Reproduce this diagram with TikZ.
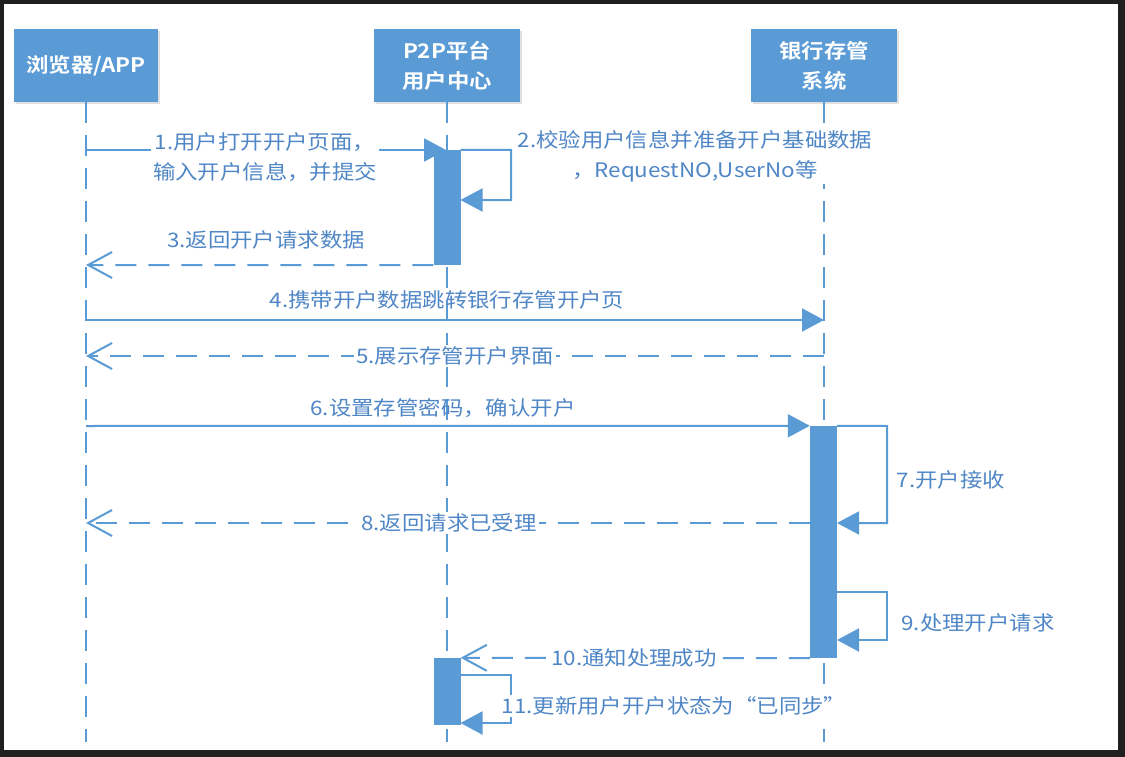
\documentclass[tikz,border=0pt]{standalone}
\usepackage{fontspec}
\usetikzlibrary{arrows.meta,shadows}
\newfontfamily\cjk[FakeStretch=1.12,BoldFont={Noto Sans CJK SC Bold},BoldFeatures={FakeStretch=1.12}]{Noto Sans CJK SC}
\definecolor{boxblue}{HTML}{5B9BD5}
\definecolor{lineblue}{HTML}{5B9BD5}
\definecolor{txtblue}{HTML}{4F86C6}
\definecolor{framedark}{HTML}{202020}
\begin{document}
\begin{tikzpicture}[x=1pt,y=-1pt,
  actor/.style={fill=boxblue, minimum width=146pt, minimum height=73pt, inner sep=0pt,
    text=white, font=\cjk\bfseries\fontsize{20}{30}\selectfont, align=center,
    drop shadow={shadow xshift=1.5pt, shadow yshift=-2pt, opacity=0.25, fill=gray}},
  life/.style={draw=lineblue, line width=2pt, dash pattern=on 21pt off 12pt},
  bar/.style={fill=lineblue, inner sep=0pt, minimum width=27pt},
  msg/.style={draw=lineblue, line width=2pt, -{Triangle[length=22pt,width=23pt]}},
  ret/.style={draw=lineblue, line width=2pt, dash pattern=on 21pt off 12pt,
    -{Straight Barb[length=24pt,width=26pt,line width=2pt]}},
  lbl/.style={text=txtblue, font=\cjk\fontsize{20}{30}\selectfont, inner sep=2pt, align=center},
  lblw/.style={lbl, fill=white}]
\useasboundingbox (0,0) rectangle (1125,757);
\fill[framedark] (0,0) rectangle (1125,757);
\fill[white] (4,4) rectangle (1118,750);

% actors
\node[actor, minimum width=144pt] (a1) at (86,65.5) {浏览器/APP};
\node[actor] (a2) at (447,65.5) {P2P平台\\用户中心};
\node[actor] (a3) at (824,65.5) {银行存管\\系统};

% lifelines
\coordinate (e1) at (86,742);
\coordinate (e2) at (447,742);
\coordinate (e3) at (824,742);
\draw[life] (a1.south) -- (e1);
\draw[life] (a2.south) -- (e2);
\draw[life] (a3.south) -- (e3);

% activation bars
\node[bar, minimum height=115pt] (bar1) at (447,207.5) {};
\node[bar, minimum height=232pt] (bar2) at (823.5,542) {};
\node[bar, minimum height=67pt] (bar3) at (447,691.5) {};

% coordinates
\coordinate (m1a) at (86,150);
\coordinate (m1b) at (446,150);
\coordinate (s2a) at (511,150);
\coordinate (s2b) at (460.5,200);
\coordinate (m3b) at (86,265);
\coordinate (m4a) at (86,320);
\coordinate (m4b) at (824,320);
\coordinate (m5a) at (824,356);
\coordinate (m5b) at (86,356);
\coordinate (m6a) at (86,426);
\coordinate (s7a) at (887,426);
\coordinate (s7b) at (837,523);
\coordinate (m8a) at (810,523);
\coordinate (m8b) at (86,523);
\coordinate (s9s) at (837,592);
\coordinate (s9a) at (887,592);
\coordinate (s9b) at (837,640);
\coordinate (s11s) at (460.5,675);
\coordinate (s11a) at (511,675);
\coordinate (s11b) at (460.5,723);

% messages
\draw[msg] (m1a) -- (m1b);
\draw[msg] (bar1.north east) -- (s2a) |- (s2b);
\draw[ret] (bar1.south west) -- (m3b);
\draw[msg] (m4a) -- (m4b);
\draw[ret] (m5a) -- (m5b);
\draw[msg] (m6a) -- (bar2.north west);
\draw[msg] (bar2.north east) -- (s7a) |- (s7b);
\draw[ret] (m8a) -- (m8b);
\draw[msg] (s9s) -- (s9a) |- (s9b);
\draw[ret] (bar2.south west) -- (bar3.north east);
\draw[msg] (s11s) -- (s11a) |- (s11b);

% bars on top of arrow tips
\node[bar, minimum height=115pt] at (bar1) {};

% labels
\node[lblw] (l1) at (265,157) {1.用户打开开户页面，\\输入开户信息，并提交};
\node[lblw] (l2) at (695,156) {2.校验用户信息并准备开户基础数据\\，RequestNO,UserNo等};
\node[lbl] (l3) at (266,240) {3.返回开户请求数据};
\node[lbl] (l4) at (447,300) {4.携带开户数据跳转银行存管开户页};
\node[lblw] (l5) at (455,356) {5.展示存管开户界面};
\node[lbl] (l6) at (443,408) {6.设置存管密码，确认开户};
\node[lbl] (l7) at (951,480) {7.开户接收};
\node[lblw] (l8) at (449,523) {8.返回请求已受理};
\node[lbl] (l9) at (978,623) {9.处理开户请求};
\node[lblw] (l10) at (634,658) {10.通知处理成功};
\node[lblw] (l11) at (674,706) {11.更新用户开户状态为“已同步”};
\end{tikzpicture}
\end{document}
